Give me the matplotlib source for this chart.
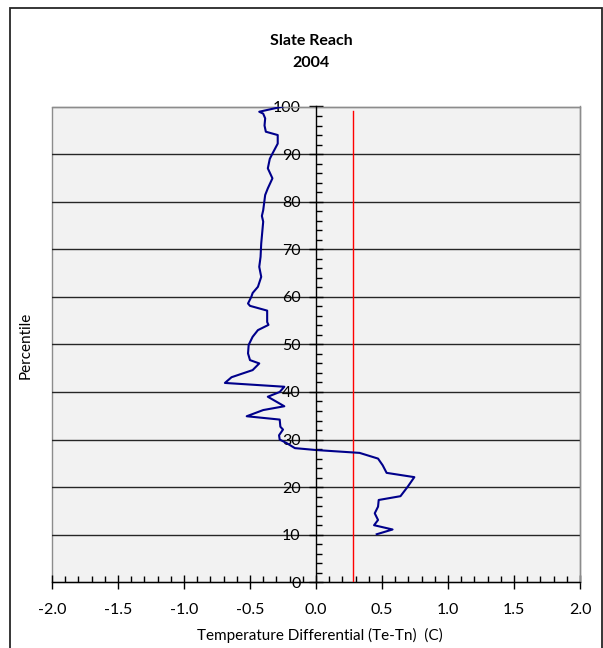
import matplotlib
matplotlib.use("Agg")
import matplotlib.pyplot as plt
from matplotlib.patches import Rectangle
from matplotlib.ticker import MultipleLocator

plt.rcParams['font.family'] = ['Lato', 'DejaVu Sans']

# Data
diff = [-0.25, -0.43, -0.40, -0.385, -0.39, -0.38, -0.29, -0.29, -0.33, -0.35, -0.365,
        -0.33, -0.365, -0.385, -0.40, -0.41, -0.40, -0.415, -0.42, -0.43, -0.415, -0.44,
        -0.48, -0.49, -0.515, -0.50, -0.37, -0.37, -0.36, -0.44, -0.48, -0.51, -0.515,
        -0.50, -0.43, -0.48, -0.555, -0.64, -0.69, -0.24, -0.275, -0.365, -0.24, -0.40,
        -0.525, -0.275, -0.27, -0.25, -0.28, -0.275, -0.225, -0.16, 0.0, 0.33, 0.47,
        0.505, 0.535, 0.745, 0.695, 0.64, 0.475, 0.47, 0.445, 0.47, 0.44, 0.58, 0.46]
pct = [100, 98.9, 98.5, 97.5, 96, 94.7, 94, 92.2, 90.1, 89, 87,
       84.9, 82.8, 81.4, 78.2, 77, 75.8, 71.2, 68.4, 66.3, 64.2, 62.1,
       60.8, 60, 58.6, 58.1, 57.1, 54.7, 54.1, 53, 51.6, 49.9, 48.1,
       46.7, 46, 44.6, 43.9, 43.1, 41.9, 41.1, 40, 39, 37, 36.2,
       34.9, 34.2, 32.7, 32.1, 30.9, 30, 29.3, 28.2, 27.8, 27.2, 26,
       24.6, 23, 22.1, 20.1, 18.1, 17.3, 15.9, 14.5, 13.1, 12, 11.1, 10.1]
ref_x = [0.28, 0.28]
ref_y = [0, 99]
title = "Slate Reach\n2004"
xticks = [-2.0, -1.5, -1.0, -0.5, 0.0, 0.5, 1.0, 1.5, 2.0]
yticks = [0, 10, 20, 30, 40, 50, 60, 70, 80, 90, 100]

W, H = 603, 648
fig = plt.figure(figsize=(W / 100, H / 100), dpi=100)
left, right, top, bottom = 52, 580, 106.5, 582.3
ax = fig.add_axes([left / W, 1 - bottom / H, (right - left) / W, (bottom - top) / H])

# Outer chart frame
fig.patches.append(Rectangle((9.5 / W, -0.05), (602 - 9.5) / W, (1.05 - 7.5 / H),
                             transform=fig.transFigure, fill=False,
                             edgecolor='#262626', linewidth=1.3, zorder=0))

ax.set_facecolor('#F2F2F2')
ax.set_xlim(-2.0, 2.0)
ax.set_ylim(0, 100)

for y in yticks[1:]:
    ax.axhline(y, color='#262626', linewidth=1.0, zorder=1)

ax.plot(ref_x, ref_y, color='#FF0000', linewidth=1.0, zorder=3)
ax.plot(diff, pct, color='#00008B', linewidth=1.5, zorder=4)

for s in ['top', 'right']:
    ax.spines[s].set_color('#8C8C8C')
    ax.spines[s].set_linewidth(1.0)
ax.spines['left'].set_position(('data', 0))
ax.spines['left'].set_color('black')
ax.spines['left'].set_linewidth(1.0)
ax.spines['left'].set_zorder(5)
ax.spines['bottom'].set_color('black')
ax.spines['bottom'].set_linewidth(1.0)
# gray left border of plot area
ax.add_patch(Rectangle((0, 0), 1, 1, transform=ax.transAxes, fill=False,
                       edgecolor='#8C8C8C', linewidth=1.0, zorder=0.5, clip_on=False))

ax.set_xticks(xticks)
ax.set_xticklabels([f"{v:.1f}" for v in xticks])
ax.set_yticks(yticks)
ax.set_yticklabels([str(v) for v in yticks])
ax.xaxis.set_minor_locator(MultipleLocator(0.1))
ax.yaxis.set_minor_locator(MultipleLocator(2))

ax.tick_params(axis='x', which='major', direction='inout', length=10, width=1,
               labelsize=11.5, pad=10, colors='black')
ax.tick_params(axis='x', which='minor', direction='in', length=4, width=1)
ax.tick_params(axis='y', which='major', direction='inout', length=10, width=1,
               labelsize=11.5, pad=6)
ax.tick_params(axis='y', which='minor', direction='in', length=4, width=1)
for lbl in ax.get_yticklabels():
    lbl.set_zorder(6)

fig.text(311 / W, 1 - 52 / H, title, ha='center', va='center', fontsize=11.5,
         fontweight='bold', linespacing=1.65)
fig.text(26 / W, 1 - 345 / H, "Percentile", ha='center', va='center',
         rotation=90, fontsize=11)
fig.text(320 / W, 1 - 635 / H, "Temperature Differential (Te-Tn)  (C)",
         ha='center', va='center', fontsize=11)

fig.savefig("out.png", dpi=100)
